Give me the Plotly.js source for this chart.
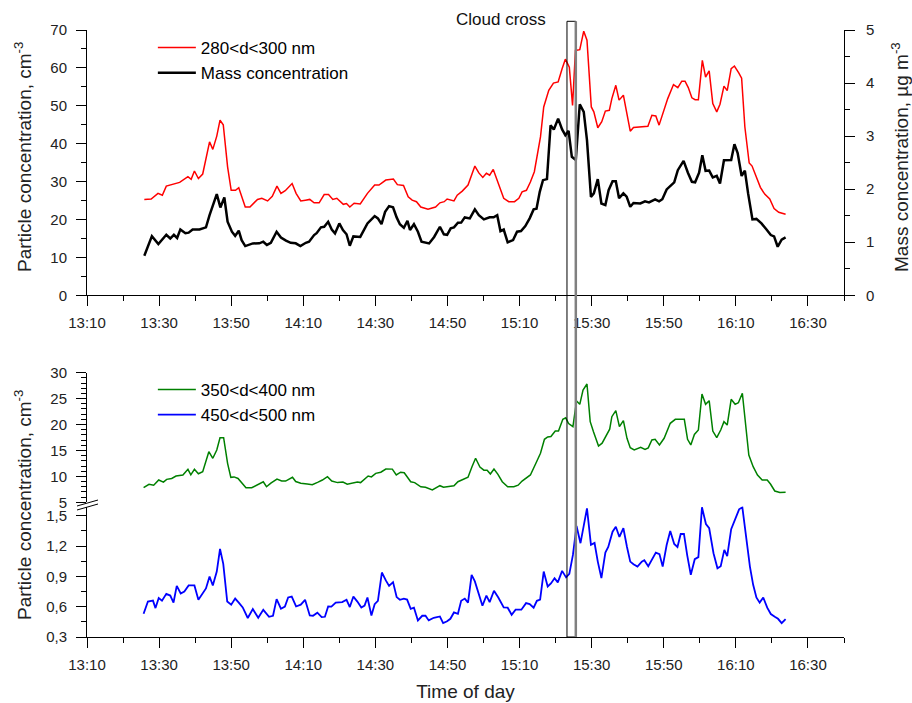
<!DOCTYPE html>
<html>
<head>
<meta charset="utf-8">
<script src="https://cdn.plot.ly/plotly-3.0.1.min.js"></script>
<style>html,body{margin:0;padding:0;background:#fff;}#chart{width:912px;height:703px;}</style>
</head>
<body>
<div id="chart"></div>
<script>
// ---- data (times in minutes after 13:10) ----
const redMin = [15.9,17.8,19.7,20.9,22.0,23.8,25.7,28.0,28.9,29.8,30.9,32.1,34.0,34.9,36.0,36.9,37.8,39.0,40.0,41.2,42.1,43.9,45.2,47.3,48.5,50.1,51.4,52.7,53.8,55.0,56.9,58.0,59.3,60.6,61.8,63.0,64.4,65.8,67.0,68.2,69.3,71.1,72.0,72.9,74.1,75.8,77.8,79.8,81.0,82.9,85.0,86.1,87.8,89.1,90.2,91.4,92.6,94.6,96.7,97.9,99.1,99.9,101.8,102.7,104.1,105.7,107.6,108.7,109.8,110.8,111.7,112.7,113.6,114.5,115.6,117.0,118.6,119.8,120.7,121.9,123.0,124.1,124.8,125.8,126.7,128.1,129.4,130.7,131.8,132.7,133.8,134.7,135.5,136.7,137.8,138.7,139.9,140.6,141.7,142.8,143.8,144.9,145.6,146.7,147.6,148.8,149.6,150.7,151.6,153.5,155.6,156.7,157.8,158.7,159.9,161.1,162.7,163.9,165.0,165.9,166.8,167.8,168.7,169.6,170.7,171.6,172.6,173.6,174.7,175.6,176.7,177.6,178.7,179.6,180.8,181.6,182.5,183.7,184.5,185.7,186.8,188.0,189.4,190.6,191.9,193.8];
const redVal = [25.3,25.4,26.9,26.4,28.8,29.2,29.8,31.3,30.6,32.8,30.8,32.0,40.5,38.5,42.0,46.2,45.0,33.9,27.7,27.7,28.4,23.3,23.3,25.3,25.6,24.9,26.1,28.8,26.9,27.6,29.5,26.9,24.9,25.1,25.3,24.4,24.4,26.6,26.6,25.3,25.6,24.0,24.2,23.3,24.3,24.1,26.9,29.1,29.1,30.4,30.7,29.2,29.0,26.0,25.1,24.7,23.3,22.7,23.3,24.4,24.7,25.4,24.9,26.4,27.5,29.1,34.1,32.3,31.1,32.2,31.7,33.2,30.9,28.9,25.6,24.7,24.7,25.6,27.3,27.7,29.9,32.6,36.5,41.8,49.7,54.1,56.0,56.3,59.8,62.3,60.2,50.1,64.6,64.8,69.7,67.3,49.7,48.4,44.2,45.8,48.6,48.8,51.9,55.4,51.5,52.8,48.8,43.3,44.3,44.5,44.6,47.5,47.3,44.9,48.4,51.9,55.6,54.8,56.5,56.5,54.8,52.1,51.6,51.6,62.0,57.6,59.2,50.6,48.4,50.4,55.2,54.0,59.8,60.5,58.7,57.3,44.4,34.9,34.1,31.3,28.5,26.7,25.4,22.9,21.9,21.4];

const massMin = [15.9,18.0,19.8,22.0,23.1,24.1,25.0,25.9,27.3,28.2,29.3,31.2,33.0,34.0,36.0,37.0,38.1,39.0,40.2,41.1,42.1,42.9,43.9,46.0,47.8,48.9,49.9,51.0,52.6,53.8,55.2,56.5,57.9,59.2,60.7,61.6,63.0,63.7,64.9,65.8,66.9,67.9,68.8,70.0,71.0,72.0,72.9,73.9,75.8,77.8,79.8,80.7,81.7,82.7,83.8,84.9,85.9,86.8,87.9,88.9,89.6,90.7,91.8,92.8,94.9,96.3,97.9,99.0,99.9,100.9,101.8,102.9,103.8,104.8,106.2,107.6,108.7,110.1,111.7,112.8,113.8,114.7,115.6,116.7,118.2,119.3,120.4,121.6,122.8,123.9,124.7,125.6,126.5,127.6,128.6,129.5,130.7,131.8,132.7,133.6,134.5,135.6,136.7,137.8,138.7,139.8,140.6,141.7,142.7,143.8,144.7,145.8,146.7,147.6,148.8,149.7,150.7,151.6,153.5,154.8,155.9,157.6,158.7,159.6,160.8,162.0,162.9,163.9,165.5,166.7,167.8,168.7,169.8,170.7,171.6,172.6,173.6,174.7,175.6,176.7,178.7,179.6,180.5,181.6,182.5,183.4,184.6,185.7,187.1,188.5,189.7,190.6,191.6,192.7,193.8];
const massVal = [0.745,1.116,0.966,1.141,1.07,1.14,1.08,1.242,1.17,1.18,1.24,1.24,1.28,1.51,1.907,1.656,1.844,1.386,1.198,1.12,1.217,1.04,0.928,0.978,0.98,1.01,0.95,0.99,1.198,1.09,1.03,0.99,0.98,0.928,0.99,1.01,1.135,1.17,1.28,1.29,1.386,1.24,1.167,1.355,1.23,1.15,0.934,1.11,1.10,1.355,1.493,1.45,1.34,1.574,1.681,1.66,1.468,1.34,1.272,1.404,1.23,1.34,1.198,1.009,0.978,1.10,1.292,1.15,1.14,1.261,1.28,1.367,1.37,1.468,1.45,1.619,1.51,1.43,1.47,1.47,1.511,1.21,1.24,0.998,1.04,1.198,1.21,1.304,1.45,1.619,1.63,1.95,2.17,2.19,3.205,3.125,3.33,3.125,3.017,3.10,2.61,2.55,3.60,3.456,2.923,1.856,1.92,2.189,1.73,1.70,1.98,2.151,2.15,1.83,1.92,1.86,1.668,1.74,1.73,1.77,1.75,1.807,1.77,1.81,1.995,2.07,2.127,2.358,2.533,2.31,2.139,2.13,2.31,2.64,2.346,2.35,2.22,2.25,2.107,2.546,2.55,2.848,2.68,2.25,2.35,1.92,1.43,1.44,1.355,1.24,1.135,1.11,0.915,1.05,1.092];

const greenMin = [15.7,17.2,18.5,19.9,21.2,22.1,23.5,24.7,26.6,28.0,28.8,29.8,30.9,32.1,33.8,34.9,36.0,36.9,37.9,39.0,39.9,40.8,41.9,43.1,44.1,45.7,47.0,48.9,49.8,51.0,52.7,54.0,55.1,57.0,57.9,59.3,61.1,62.5,64.1,65.3,66.7,67.9,69.5,71.0,72.2,73.6,75.0,75.9,78.0,78.9,80.1,81.5,82.9,84.7,85.8,87.0,88.0,89.8,90.9,92.6,93.9,95.8,96.7,97.9,98.9,100.4,101.8,102.9,104.4,105.7,106.8,107.8,109.0,110.1,111.0,111.9,112.9,114.0,115.2,116.7,118.4,119.6,120.7,122.3,123.0,124.4,125.8,126.9,127.8,128.7,129.9,130.8,132.0,132.8,133.6,134.8,135.8,136.7,137.6,138.7,139.6,140.5,141.9,142.9,144.1,145.0,145.6,146.7,147.7,148.8,149.8,150.7,151.8,153.6,154.8,155.7,156.7,157.6,158.8,160.1,161.8,163.2,164.6,165.7,166.6,167.5,168.5,169.6,170.6,171.6,172.6,173.6,174.7,175.8,176.7,177.6,178.7,179.8,180.7,181.8,183.6,184.8,186.0,187.3,188.7,189.6,190.8,192.2,193.8];
const greenVal = [7.82,8.47,8.3,9.3,8.9,9.43,9.6,10.07,10.27,11.37,10.3,11.37,10.5,10.9,14.76,13.49,15.09,17.46,17.46,12.52,9.82,9.9,9.6,8.7,7.82,7.8,8.3,8.97,8.0,8.7,9.49,9.1,9.1,9.82,9.0,8.66,8.55,8.4,8.9,9.3,9.94,9.1,8.8,8.9,8.5,8.7,8.9,8.8,10.07,9.9,10.59,10.8,11.42,11.4,10.27,10.8,10.7,8.97,8.8,8.0,7.9,7.37,7.7,8.2,7.9,8.1,8.2,8.97,9.4,9.82,11.87,13.49,11.8,11.2,11.2,10.46,11.42,10.4,8.97,8.0,8.0,8.3,9.1,9.82,10.27,12.33,14.45,17.15,17.6,17.7,18.75,18.75,21.0,21.3,20.2,19.59,24.54,23.9,26.66,27.82,20.55,18.6,15.86,16.4,18.12,19.1,21.51,22.67,19.59,20.75,17.35,15.54,15.1,15.6,15.2,15.5,17.02,17.15,16.06,17.35,20.24,21.01,21.0,21.0,17.15,16.06,18.1,18.94,25.89,23.9,24.6,18.75,17.46,18.94,20.55,19.9,24.87,23.9,24.2,26.03,14.12,11.87,10.27,9.3,9.3,8.53,7.18,6.9,6.93];

const blueMin = [15.7,16.9,18.3,19.0,19.9,20.8,22.0,23.1,24.0,24.9,26.0,27.0,28.2,29.8,30.9,32.1,33.0,34.0,34.9,36.0,36.9,37.8,38.9,40.0,41.1,42.1,43.2,44.6,46.0,47.5,48.9,50.5,51.6,52.6,53.8,54.9,55.8,56.8,58.0,59.3,60.5,61.8,62.7,63.9,65.1,66.0,66.9,67.8,69.0,70.8,72.0,72.9,73.9,75.0,76.1,77.0,77.8,78.9,79.8,80.7,81.8,82.9,83.8,84.9,85.9,86.8,87.9,88.8,89.8,90.7,91.8,93.0,93.9,94.8,96.2,97.9,98.8,99.9,100.8,101.8,102.9,103.8,104.8,105.7,106.7,107.6,108.7,109.7,110.8,111.7,112.9,114.1,115.6,116.7,117.8,118.9,120.5,121.8,122.8,123.9,124.8,125.7,126.7,127.8,128.7,129.7,130.6,131.8,132.9,133.8,134.8,135.8,136.9,138.7,139.8,140.8,141.7,142.7,143.8,144.6,145.8,146.7,147.7,148.8,149.8,150.7,151.6,152.7,153.9,154.6,155.7,156.6,157.8,158.8,159.7,160.8,161.8,162.9,163.8,164.7,165.6,166.5,167.5,168.6,169.6,170.6,171.7,172.6,173.8,174.9,175.8,176.8,177.6,178.7,179.8,180.9,181.8,182.7,183.9,184.8,185.7,186.6,187.6,188.7,189.7,190.8,191.7,192.7,193.8];
const blueVal = [0.53,0.651,0.66,0.586,0.685,0.66,0.727,0.71,0.641,0.806,0.73,0.75,0.81,0.81,0.668,0.73,0.78,0.898,0.81,0.947,1.171,1.023,0.651,0.62,0.68,0.64,0.592,0.488,0.576,0.49,0.569,0.5,0.51,0.675,0.58,0.6,0.691,0.70,0.602,0.62,0.668,0.513,0.51,0.54,0.497,0.5,0.602,0.6,0.641,0.645,0.668,0.596,0.70,0.65,0.592,0.61,0.691,0.513,0.625,0.657,0.938,0.86,0.806,0.843,0.695,0.668,0.68,0.67,0.579,0.59,0.464,0.51,0.51,0.464,0.49,0.503,0.438,0.455,0.48,0.543,0.53,0.658,0.68,0.64,0.915,0.85,0.72,0.609,0.71,0.645,0.757,0.69,0.592,0.59,0.52,0.57,0.57,0.635,0.625,0.59,0.658,0.67,0.947,0.80,0.83,0.882,0.84,0.954,0.89,0.925,1.112,1.398,1.228,1.573,1.211,1.23,1.046,0.882,1.135,1.19,1.342,1.391,1.29,1.376,1.19,1.046,1.02,0.997,1.046,1.06,1.0,1.06,1.135,1.12,0.997,1.21,1.349,1.22,1.19,1.319,1.32,1.11,0.915,1.07,1.09,1.583,1.418,1.376,1.129,0.98,1.0,1.162,1.10,1.366,1.46,1.563,1.583,1.34,0.997,0.816,0.691,0.64,0.691,0.59,0.527,0.5,0.48,0.438,0.478];

const cloudStartMin = 133.15, cloudEndMin = 135.6;   // "Cloud cross" window

// ---- helpers ----
const T0 = Date.UTC(2000, 0, 1, 13, 10);
const toX = m => T0 + m * 60000;
const FONT = 'Arial, "Liberation Sans", sans-serif';

const traces = [
  {x: redMin.map(toX), y: redVal, xaxis: 'x', yaxis: 'y', mode: 'lines', name: '280&lt;d&lt;300 nm',
   line: {color: '#ff0000', width: 1.5}, legend: 'legend'},
  {x: massMin.map(toX), y: massVal, xaxis: 'x', yaxis: 'y2', mode: 'lines', name: 'Mass concentration',
   line: {color: '#000000', width: 2.5}, legend: 'legend'},
  {x: greenMin.map(toX), y: greenVal, xaxis: 'x2', yaxis: 'y4', mode: 'lines', name: '350&lt;d&lt;400 nm',
   line: {color: '#008000', width: 1.5}, legend: 'legend2'},
  {x: blueMin.map(toX), y: blueVal, xaxis: 'x2', yaxis: 'y3', mode: 'lines', name: '450&lt;d&lt;500 nm',
   line: {color: '#0000ff', width: 1.8}, legend: 'legend2'}
];

const tickFont = {family: FONT, size: 15, color: '#222'};
const axBase = {showline: true, linecolor: '#000', linewidth: 1, showgrid: false, zeroline: false,
  ticks: 'outside', ticklen: 10, tickwidth: 1, tickcolor: '#000', tickfont: tickFont};
const xBase = Object.assign({}, axBase, {type: 'date', range: [toX(0), toX(210)], tick0: toX(0),
  dtick: 1200000, tickformat: '%H:%M', ticklabelstandoff: 4,
  minor: {dtick: 600000, ticks: 'outside', ticklen: 5, tickcolor: '#000', showgrid: false}});

const H = 607; // plot area height
const titleFont = {family: FONT, size: 19, color: '#222'};
const layout = {
  width: 912, height: 703,
  margin: {l: 87, r: 68, t: 30, b: 66},
  paper_bgcolor: '#fff', plot_bgcolor: 'rgba(0,0,0,0)',
  font: {family: FONT, color: '#000'},
  separators: ', ',
  showlegend: true,
  xaxis: Object.assign({}, xBase, {anchor: 'y', domain: [0, 1]}),
  xaxis2: Object.assign({}, xBase, {anchor: 'y3', domain: [0, 1],
    title: {text: 'Time of day', font: titleFont, standoff: 12}}),
  yaxis: Object.assign({}, axBase, {anchor: 'x', domain: [(637 - 295.3) / H, 1], range: [0, 70], dtick: 10,
    ticklabelstandoff: 6, minor: {dtick: 5, ticks: 'outside', ticklen: 5, tickcolor: '#000'}}),
  yaxis2: Object.assign({}, axBase, {anchor: 'x', overlaying: 'y', side: 'right', range: [0, 5], dtick: 1,
    ticklabelstandoff: 8, minor: {dtick: 0.5, ticks: 'outside', ticklen: 5, tickcolor: '#000'}}),
  yaxis3: Object.assign({}, axBase, {anchor: 'x2', domain: [0, (637 - 506.6) / H], range: [0.3, 1.59],
    tick0: 0.3, dtick: 0.3, tickformat: '.1f', ticklabelstandoff: 6,
    minor: {tick0: 0.3, dtick: 0.15, ticks: 'outside', ticklen: 5, tickcolor: '#000'}}),
  yaxis4: Object.assign({}, axBase, {anchor: 'x2', domain: [(637 - 502.3) / H, (637 - 372.7) / H], range: [5, 30],
    dtick: 5, ticklabelstandoff: 6, minor: {dtick: 1, ticks: 'outside', ticklen: 5, tickcolor: '#000'}}),
  legend: {x: 0.087, y: 1.0, xanchor: 'left', yanchor: 'top', bgcolor: 'rgba(0,0,0,0)',
    font: {family: FONT, size: 17, color: '#000'}, itemwidth: 38, tracegroupgap: 0},
  legend2: {x: 0.087, y: (637 - 372) / H, xanchor: 'left', yanchor: 'top', bgcolor: 'rgba(0,0,0,0)',
    font: {family: FONT, size: 17, color: '#000'}, itemwidth: 38, tracegroupgap: 0},
  annotations: [
    {text: 'Particle concentration, cm<sup>-3</sup>', xref: 'paper', yref: 'paper', x: 0, xshift: -64,
     y: (637 - 157) / H, xanchor: 'center', yanchor: 'middle', textangle: -90, showarrow: false, font: titleFont},
    {text: 'Particle concentration, cm<sup>-3</sup>', xref: 'paper', yref: 'paper', x: 0, xshift: -64,
     y: (637 - 505) / H, xanchor: 'center', yanchor: 'middle', textangle: -90, showarrow: false, font: titleFont},
    {text: 'Mass concentration, µg m<sup>-3</sup>', xref: 'paper', yref: 'paper', x: 1, xshift: 56,
     y: (637 - 157) / H, xanchor: 'center', yanchor: 'middle', textangle: -90, showarrow: false, font: titleFont},
    {text: 'Cloud cross', xref: 'paper', yref: 'paper', x: (501 - 87) / 757, y: (637 - 19) / H,
     xanchor: 'center', yanchor: 'middle', showarrow: false, font: {family: FONT, size: 17, color: '#111'}}
  ],
  shapes: [
    {type: 'rect', xref: 'x', yref: 'paper', x0: toX(cloudStartMin), x1: toX(cloudEndMin), y0: 0,
     y1: (637 - 21.3) / H, line: {color: '#000', width: 1}, fillcolor: 'rgba(0,0,0,0)'},
    {type: 'line', xref: 'x', yref: 'paper', x0: toX(cloudEndMin), x1: toX(cloudEndMin), y0: 0,
     y1: (637 - 21.3) / H, line: {color: '#808080', width: 2.5}},
    // axis-break marks
    {type: 'line', xref: 'paper', yref: 'paper', x0: (77 - 87) / 757, x1: (98 - 87) / 757,
     y0: (637 - 506) / H, y1: (637 - 500) / H, line: {color: '#000', width: 1}},
    {type: 'line', xref: 'paper', yref: 'paper', x0: (77 - 87) / 757, x1: (98 - 87) / 757,
     y0: (637 - 510) / H, y1: (637 - 504) / H, line: {color: '#000', width: 1}}
  ]
};

Plotly.newPlot('chart', traces, layout, {displayModeBar: false, staticPlot: true});
</script>
</body>
</html>
